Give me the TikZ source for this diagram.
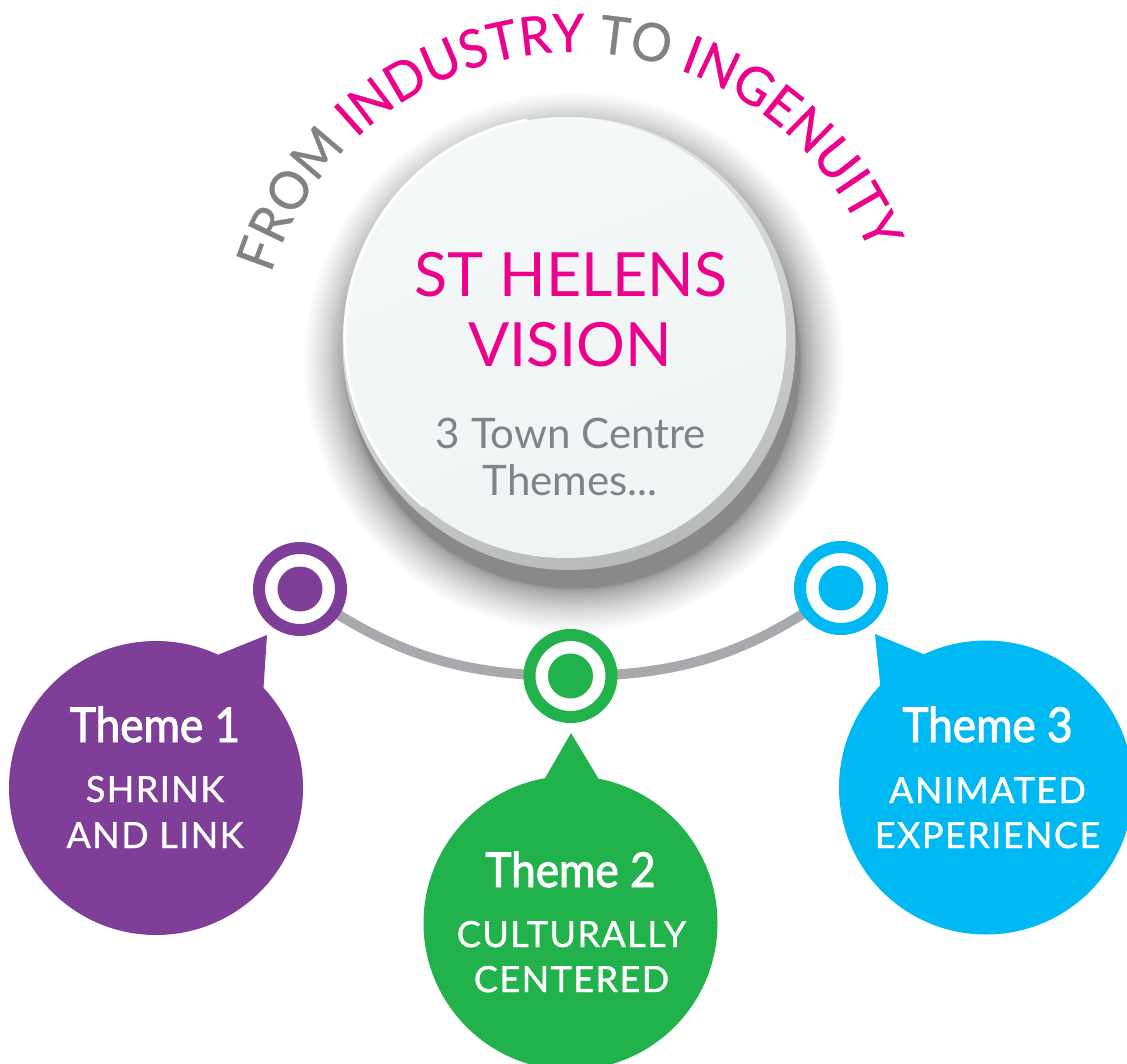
\documentclass[tikz,border=0pt]{standalone}
\usepackage{fontspec}
\setmainfont{Lato}
\newfontfamily\themefont[FakeStretch=0.92, FakeBold=2]{Lato}
\newfontfamily\capsfont[LetterSpace=4, FakeBold=1]{Lato}
\newfontfamily\slogfont[FakeStretch=0.96, FakeBold=0.5]{Lato}
\usetikzlibrary{decorations.text}

\definecolor{vpink}{HTML}{EC008C}
\definecolor{vgray}{HTML}{808285}
\definecolor{vpurple}{HTML}{7F3F98}
\definecolor{vgreen}{HTML}{22B24C}
\definecolor{vblue}{HTML}{00B9F2}
\definecolor{linkgray}{HTML}{A7A9AC}
\definecolor{rimtop}{HTML}{E9EAEA}
\definecolor{rimbot}{HTML}{B8B9BA}
\definecolor{facetop}{HTML}{F5F8F8}
\definecolor{facebot}{HTML}{EEF3F3}

\newcommand\arcgray{\slogfont\fontsize{53}{53}\selectfont\color{vgray}}
\newcommand\arcpink{\slogfont\fontsize{53}{53}\selectfont\color{vpink}}

\begin{document}
\begin{tikzpicture}[x=1pt,y=1pt,
  ring/.style={circle, draw=#1, line width=12pt, fill=white,
    minimum size=82pt, inner sep=0pt},
  bubble/.style={circle, fill=#1, minimum size=294pt, inner sep=0pt, outer sep=0pt},
  link/.style={draw=linkgray, line width=10pt},
  headline/.style={anchor=base, inner sep=0pt, text=vpink,
    font=\fontsize{61}{61}\selectfont},
  subline/.style={anchor=base, inner sep=0pt, text=vgray,
    font=\fontsize{42}{42}\selectfont},
  themetitle/.style={anchor=base, inner sep=0pt, text=white,
    font=\themefont\fontsize{48}{48}\selectfont},
  themecaps/.style={anchor=base, inner sep=0pt, text=white,
    font=\capsfont\fontsize{36}{36}\selectfont}]

% canvas
\fill[white] (0,0) rectangle (1127,-1064);
\useasboundingbox (0,0) rectangle (1127,-1064);

% soft shadow under the central disc (layers packed densely near the rim)
\coordinate (sc) at (574,-362);
\foreach \k in {1,...,34}
  \fill[black, opacity=0.015] (sc) circle ({226+0.038*\k*\k});

% central disc: rim, face and highlight
\node[circle, minimum size=453pt, inner sep=0pt,
  top color=rimtop, bottom color=rimbot, shading angle=20] (hub) at (569,-343.5) {};
\node[circle, minimum size=441pt, inner sep=0pt,
  top color=facetop, bottom color=facebot, shading angle=20] (face) at (565.5,-337.5) {};
\draw[white, line width=3pt] (face.100) arc[start angle=100, end angle=230, radius=220.5];

\node[headline] (title1) at (571,-297) {ST HELENS};
\node[headline] (title2) at (570,-367) {VISION};
\node[subline] (sub1) at (571,-448) {3 Town Centre};
\node[subline] (sub2) at (570,-495) {Themes...};

% slogan around the disc
\path[decorate, decoration={text along path, text align=center,
  text={|\arcgray|FROM |\arcpink|INDUSTRY |\arcgray|TO |\arcpink|INGENUITY}}]
  (574,-370) ++(173:318) arc[start angle=173, end angle=11, radius=318];

% connector line and the three markers
\coordinate (m1) at (300,-589);
\coordinate (m2) at (570.5,-676);
\coordinate (m3) at (841,-588);
\draw[link] (m1) to[bend right=17.7] (m2) to[bend right=18] (m3);

\node[ring=vpurple] (r1) at (m1) {};
\node[ring=vgreen] (r2) at (m2) {};
\node[ring=vblue] (r3) at (m3) {};
\fill[vpurple] (r1) circle (22.5);
\fill[vgreen] (r2) circle (22.5);
\fill[vblue] (r3) circle (22.5);

% theme bubbles with their pointers
\node[bubble=vpurple] (b1) at (156,-788) {};
\coordinate (p1) at (267,-635);
\fill[vpurple] (b1.65) -- (p1) -- (b1.43) -- cycle;
\node[themetitle] (b1t) at (155,-742) {Theme 1};
\node[themecaps] (b1a) at (155,-802) {SHRINK};
\node[themecaps] (b1b) at (155,-848) {AND LINK};

\node[bubble=vgreen] (b2) at (570.5,-923) {};
\coordinate (p2) at (571,-733);
\fill[vgreen] (b2.100) -- (p2) -- (b2.79.6) -- cycle;
\node[themetitle] (b2t) at (570.5,-887) {Theme 2};
\node[themecaps] (b2a) at (571.5,-947) {CULTURALLY};
\node[themecaps] (b2b) at (571.5,-992) {CENTERED};

\node[bubble=vblue] (b3) at (986,-787.5) {};
\coordinate (p3) at (875,-634);
\fill[vblue] (b3.136.5) -- (p3) -- (b3.115.8) -- cycle;
\node[themetitle] (b3t) at (987.5,-742) {Theme 3};
\node[themecaps] (b3a) at (987.5,-803) {ANIMATED};
\node[themecaps] (b3b) at (987.5,-848) {EXPERIENCE};
\end{tikzpicture}
\end{document}
